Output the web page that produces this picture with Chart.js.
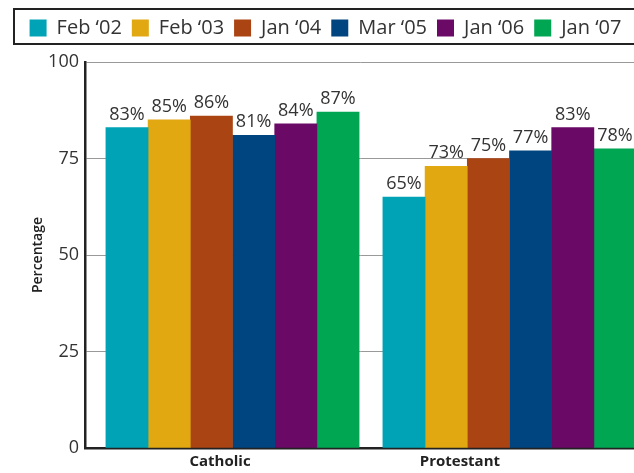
<!DOCTYPE html>
<html>
<head>
<meta charset="utf-8">
<script src="https://cdn.jsdelivr.net/npm/chart.js@4"></script>
<style>
  body { margin: 0; background: #fff; overflow: hidden; }
  #wrap { width: 634px; height: 473px; position: relative; }
</style>
</head>
<body>
<div id="wrap"><canvas id="chartSurvey"></canvas></div>
<script>
// chart data
const groups = ['Catholic', 'Protestant'];
const surveys = ['Feb \u201802', 'Feb \u201803', 'Jan \u201804', 'Mar \u201805', 'Jan \u201806', 'Jan \u201807'];
const catholic = [83, 85, 86, 81, 84, 87];
const protestant = [65, 73, 75, 77, 83, 77.5];
const yTicks = [0, 25, 50, 75, 100];
const colors = ['#00A3B5', '#E1A812', '#AB4413', '#00457F', '#6A0A66', '#00A651'];

Chart.defaults.font.family = "'Open Sans', sans-serif";
Chart.defaults.color = '#333';

// extra room under the legend + frame around it
const legendFrame = {
  id: 'legendFrame',
  beforeInit(chart) {
    const fit = chart.legend.fit;
    chart.legend.fit = function () {
      fit.call(this);
      this.height += 14;
    };
  },
  afterDraw(chart) {
    const ctx = chart.ctx;
    ctx.save();
    ctx.strokeStyle = '#222';
    ctx.lineWidth = 2;
    ctx.strokeRect(14, 9, 640, 35);
    ctx.restore();
  }
};

// value labels above bars
const barValues = {
  id: 'barValues',
  afterDatasetsDraw(chart) {
    const ctx = chart.ctx;
    ctx.save();
    ctx.font = "18px 'Open Sans', sans-serif";
    ctx.fillStyle = '#333';
    ctx.textAlign = 'center';
    ctx.textBaseline = 'alphabetic';
    chart.data.datasets.forEach((ds, i) => {
      chart.getDatasetMeta(i).data.forEach((bar, j) => {
        ctx.fillText(Math.round(ds.data[j].y) + '%', bar.x, bar.y - 8);
      });
    });
    ctx.restore();
  }
};

const ctx = document.getElementById('chartSurvey');
new Chart(ctx, {
  type: 'bar',
  data: {
    datasets: surveys.map((name, i) => ({
      label: name,
      data: [catholic[i], protestant[i]].map((v, g) => ({ x: g, y: v })),
      backgroundColor: colors[i],
      borderWidth: 0,
      barThickness: 42.2
    }))
  },
  options: {
    responsive: true,
    maintainAspectRatio: false,
    animation: false,
    layout: { padding: { top: 8, left: 17, right: 0, bottom: 0 } },
    plugins: {
      legend: {
        position: 'top',
        labels: {
          boxWidth: 17,
          boxHeight: 17,
          padding: 10,
          color: '#333',
          font: { size: 20 }
        }
      },
      tooltip: { enabled: false }
    },
    scales: {
      x: {
        type: 'linear',
        offset: false,
        min: -0.5325,
        max: 1.4495,
        grid: { display: false, drawTicks: false, offset: false },
        border: { display: true, color: '#222', width: 2.5 },
        afterBuildTicks: s => { s.ticks = [{ value: -0.045 }, { value: 0.821 }]; },
        afterFit: s => { s.height = 25; },
        ticks: {
          autoSkip: false,
          maxRotation: 0,
          padding: 5,
          color: '#222',
          font: { size: 15, weight: 'bold' },
          callback: (v, i) => groups[i]
        }
      },
      y: {
        min: 0,
        max: 100,
        afterBuildTicks: s => { s.ticks = yTicks.map(v => ({ value: v })); },
        afterFit: s => { s.width = 68; },
        grid: { color: '#999', lineWidth: 1, drawTicks: false },
        border: { display: true, color: '#222', width: 2.5 },
        ticks: {
          padding: 6,
          color: '#333',
          font: { size: 18 }
        },
        title: {
          display: true,
          text: 'Percentage',
          color: '#222',
          font: { size: 14, weight: '600' },
          padding: { top: 13, bottom: 0 }
        }
      }
    }
  },
  plugins: [legendFrame, barValues]
});
</script>
</body>
</html>
